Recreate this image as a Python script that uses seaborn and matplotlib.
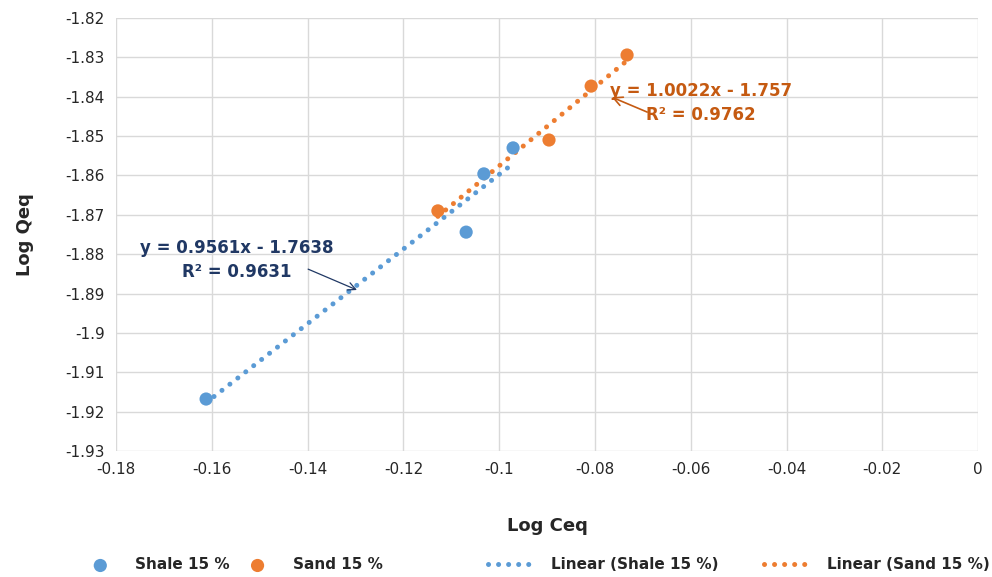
import numpy as np
import pandas as pd
import matplotlib
matplotlib.use("Agg")
import matplotlib.pyplot as plt
import seaborn as sns

sns.set_style("white")
plt.rcParams['font.family'] = ['DejaVu Sans']

# data
shale_x = [-0.1612, -0.1069, -0.1032, -0.0971]
shale_y = [-1.9168, -1.8744, -1.8596, -1.8530]
sand_x = [-0.1128, -0.0896, -0.0808, -0.0733]
sand_y = [-1.8690, -1.8510, -1.8373, -1.8294]

blue = "#5B9BD5"
orange = "#ED7D31"

shale = pd.DataFrame({"Log Ceq": shale_x, "Log Qeq": shale_y})
sand = pd.DataFrame({"Log Ceq": sand_x, "Log Qeq": sand_y})

fig = plt.figure(figsize=(9.92, 5.77), dpi=100)
ax = fig.add_axes([0.117, 0.2184, 0.869, 0.7504])

dot = dict(linestyle=(0, (0.01, 2.0)), linewidth=3.6, dash_capstyle="round")

sns.regplot(data=shale, x="Log Ceq", y="Log Qeq", ci=None, scatter=False,
            truncate=True, color=blue, line_kws=dot, ax=ax)
sns.regplot(data=sand, x="Log Ceq", y="Log Qeq", ci=None, scatter=False,
            truncate=True, color=orange, line_kws=dot, ax=ax)
shale_line, sand_line = ax.lines[0], ax.lines[1]
sns.scatterplot(data=shale, x="Log Ceq", y="Log Qeq", color=blue, s=90,
                edgecolor="none", ax=ax, zorder=3)
sns.scatterplot(data=sand, x="Log Ceq", y="Log Qeq", color=orange, s=90,
                edgecolor="none", ax=ax, zorder=3)
shale_pts, sand_pts = ax.collections[-2], ax.collections[-1]

ax.set_xlim(-0.18, 0)
ax.set_ylim(-1.93, -1.82)
ax.set_xticks(np.arange(-0.18, 0.001, 0.02))
ax.set_yticks(np.arange(-1.93, -1.8199, 0.01))
ax.set_xticklabels(["-0.18", "-0.16", "-0.14", "-0.12", "-0.1", "-0.08",
                    "-0.06", "-0.04", "-0.02", "0"])
ax.set_yticklabels(["-1.93", "-1.92", "-1.91", "-1.9", "-1.89", "-1.88", "-1.87",
                    "-1.86", "-1.85", "-1.84", "-1.83", "-1.82"])
ax.tick_params(labelsize=11, length=0, pad=8)
ax.grid(True, color="#D9D9D9", linewidth=1)
for s in ax.spines.values():
    s.set_visible(False)

ax.set_xlabel("Log Ceq", fontsize=13, fontweight="bold", labelpad=29)
ax.set_ylabel("Log Qeq", fontsize=13, fontweight="bold", labelpad=23)

# trendline equation labels with leader arrows
ax.text(-0.1549, -1.8815, "y = 0.9561x - 1.7638\nR² = 0.9631", ha="center",
        va="center", fontsize=12, fontweight="bold", color="#203864", linespacing=1.4)
ax.annotate("", xy=(-0.1297, -1.8891), xytext=(-0.1399, -1.8838),
            arrowprops=dict(arrowstyle="->", color="#203864", lw=0.9,
                            shrinkA=0, shrinkB=0, mutation_scale=14))
ax.text(-0.0579, -1.8416, "y = 1.0022x - 1.757\nR² = 0.9762", ha="center",
        va="center", fontsize=12, fontweight="bold", color="#C55A11", linespacing=1.4)
ax.annotate("", xy=(-0.0765, -1.8401), xytext=(-0.0691, -1.8439),
            arrowprops=dict(arrowstyle="->", color="#C55A11", lw=1.2,
                            shrinkA=0, shrinkB=0, mutation_scale=16))

# legend in two parts to match the uneven spacing below the chart
fig.legend([shale_pts, sand_pts], ["Shale 15 %", "Sand 15 %"],
           loc="center left", bbox_to_anchor=(0.0857, 0.0208), ncol=2,
           frameon=False, prop=dict(weight="bold", size=11),
           borderpad=0, borderaxespad=0, handlelength=2,
           handletextpad=1.3, columnspacing=0.8)
fig.legend([shale_line, sand_line], ["Linear (Shale 15 %)", "Linear (Sand 15 %)"],
           loc="center left", bbox_to_anchor=(0.492, 0.0208), ncol=2,
           frameon=False, prop=dict(weight="bold", size=11),
           borderpad=0, borderaxespad=0, handlelength=3.2,
           handletextpad=0.9, columnspacing=3.0)

fig.savefig("out.png", dpi=100)
